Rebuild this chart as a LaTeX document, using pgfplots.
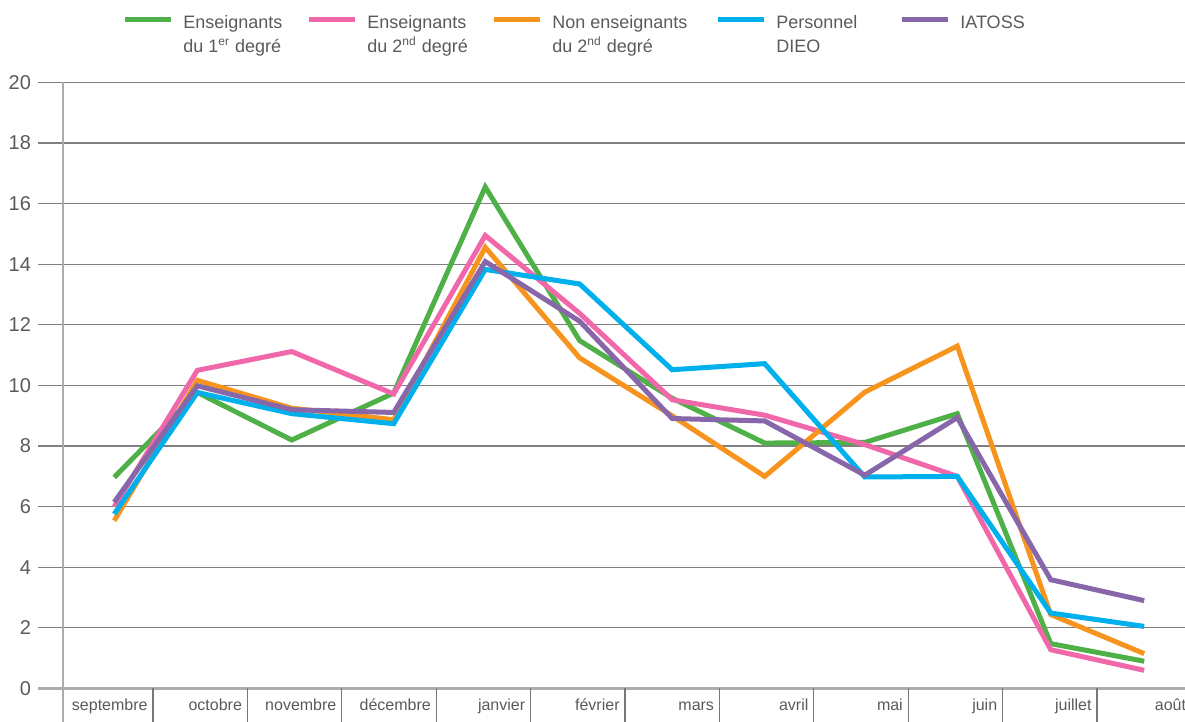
\documentclass[border=0pt]{standalone}
\usepackage{fontspec}
\setmainfont{Liberation Sans}
\usepackage{pgfplots}
\pgfplotsset{compat=1.18}
\usepackage{pgfplotstable}
\usetikzlibrary{calc}

\definecolor{cgreen}{RGB}{80,176,72}
\definecolor{cpink}{RGB}{240,104,170}
\definecolor{corange}{RGB}{247,148,30}
\definecolor{cblue}{RGB}{0,176,236}
\definecolor{cpurple}{RGB}{135,103,170}
\definecolor{gridgray}{RGB}{128,128,128}
\definecolor{axgray}{RGB}{172,172,176}
\definecolor{sepgray}{RGB}{120,120,120}
\definecolor{txtgray}{RGB}{90,90,90}

% x = month position (0 = septembre ... 11 = aout)
\pgfplotstableread{
x     prem   deux   nonens  dieo   iatoss
0.09  6.97   6.00   5.54    5.76   6.15
0.97  9.77   10.50  10.17   9.77   9.99
1.97  8.20   11.12  9.25    9.07   9.20
3.05  9.75   9.72   8.87    8.74   9.11
4.02  16.55  14.95  14.56   13.83  14.09
5.02  11.48  12.38  10.91   13.35  12.12
6.00  9.58   9.53   9.00    10.52  8.91
6.98  8.10   9.02   7.00    10.72  8.83
8.04  8.12   8.05   9.78    6.98   7.04
9.02  9.07   7.00   11.30   7.00   8.94
10.01 1.48   1.28   2.44    2.49   3.59
11.00 0.90   0.60   1.15    2.05   2.90
}\mois

\begin{document}
\begin{tikzpicture}
\begin{axis}[
  name=ax, scale only axis,
  width=564.2pt, height=303pt,
  xmin=-0.453, xmax=11.5, ymin=0, ymax=20,
  clip=false,
  axis line style={draw=none},
  ytick={0,2,...,20}, ytick pos=left,
  xtick={0.5,1.5,...,11.5}, xtick pos=bottom,
  xticklabels={septembre,octobre,novembre,d\'ecembre,janvier,f\'evrier,mars,avril,mai,juin,juillet,ao\^ut},
  xtick style={draw=none},
  major tick length=12.5pt, tick align=outside,
  ytick style={draw=gridgray, line width=0.6pt},
  ymajorgrids, grid style={draw=gridgray, line width=0.6pt},
  /pgf/number format/assume math mode=true,
  yticklabel style={font=\fontsize{10}{12}\selectfont, text=txtgray},
  xticklabel style={font=\fontsize{8}{10}\selectfont, text=txtgray,
    anchor=base east, inner sep=0pt, xshift=-2.5pt, yshift=1.5pt},
  legend columns=5,
  legend style={at={(0,1)}, anchor=north west, xshift=29.5pt, yshift=33.5pt,
    draw=none, fill=none, inner sep=0pt, column sep=5pt,
    nodes={inner sep=0pt}, cells={anchor=base west},
    font=\fontsize{9}{12}\selectfont, text=txtgray},
  legend image code/.code={\draw[#1, line width=2.5pt] (0pt,4.5pt) -- (23pt,4.5pt);},
  every axis plot/.append style={line width=2.5pt, line join=miter},
]
\draw[axgray, line width=1pt] (axis cs:-0.453,20) -- (axis cs:-0.453,0) -- ++(0pt,-16.75pt);
\draw[axgray, line width=1.5pt] (axis cs:-0.453,0) ++(-12.5pt,0pt) -- (axis cs:11.5,0);
\pgfplotsinvokeforeach{0.5,1.5,...,10.5}{
  \draw[sepgray, line width=0.6pt] (axis cs:#1,0) -- ++(0pt,-16.75pt);
}
\addplot[cgreen]  table[x=x, y=prem]   {\mois};
\addlegendentry{\parbox[t]{56.5pt}{Enseignants\\du 1\textsuperscript{er} degr\'e}}
\addplot[cpink]   table[x=x, y=deux]   {\mois};
\addlegendentry{\parbox[t]{57pt}{Enseignants\\du 2\textsuperscript{nd} degr\'e}}
\addplot[corange] table[x=x, y=nonens] {\mois};
\addlegendentry{\parbox[t]{76.5pt}{Non enseignants\\du 2\textsuperscript{nd} degr\'e}}
\addplot[cblue]   table[x=x, y=dieo]   {\mois};
\addlegendentry{\parbox[t]{56.5pt}{Personnel\\DIEO}}
\addplot[cpurple] table[x=x, y=iatoss] {\mois};
\addlegendentry{IATOSS}
\end{axis}
\pgfresetboundingbox
\path[use as bounding box] ($(ax.south west)+(-31.5pt,-16.75pt)$) rectangle ($(ax.south west)+(561pt,344.25pt)$);
\end{tikzpicture}
\end{document}
